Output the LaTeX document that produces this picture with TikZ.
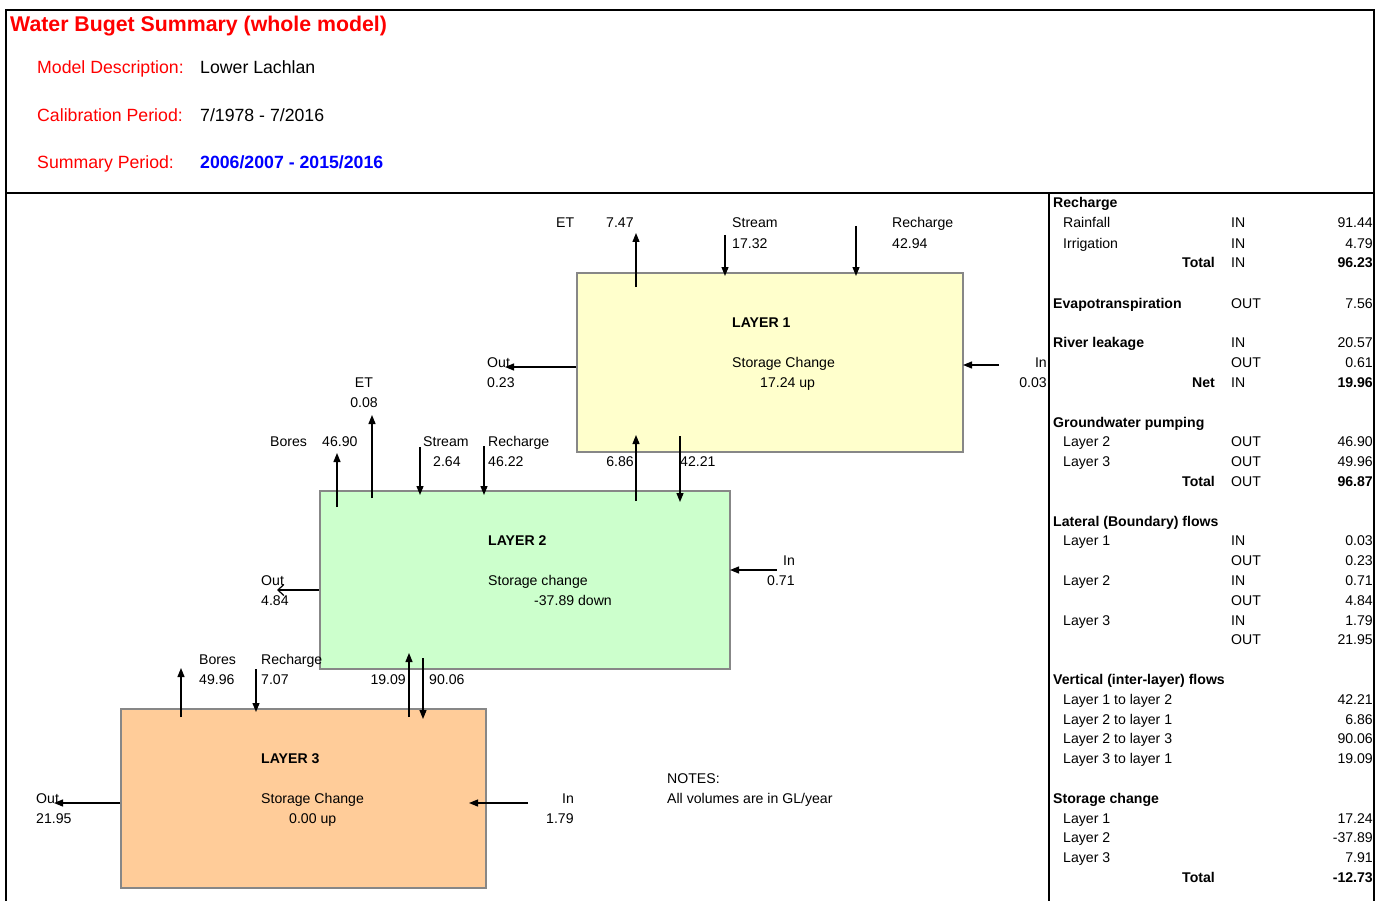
\documentclass[tikz,border=0pt]{standalone}
\usepackage{fontspec}
\setmainfont{Liberation Sans}
\usetikzlibrary{arrows.meta}
\definecolor{hdrred}{RGB}{255,0,0}
\definecolor{hdrblue}{RGB}{0,0,255}
\definecolor{lonefill}{RGB}{255,255,204}
\definecolor{ltwofill}{RGB}{204,255,204}
\definecolor{lthreefill}{RGB}{255,204,153}
\definecolor{boxedge}{RGB}{135,135,135}
\tikzset{
  lbl/.style={font=\fontsize{14.1}{16}\selectfont, inner sep=0pt, anchor=base west},
  lblr/.style={lbl, anchor=base east},
  lblc/.style={lbl, anchor=base},
  blbl/.style={lbl, font=\fontsize{14.1}{16}\selectfont\bfseries},
  blblr/.style={lblr, font=\fontsize{14.1}{16}\selectfont\bfseries},
  hdr/.style={font=\fontsize{17.7}{20}\selectfont, inner sep=0pt, anchor=base west},
  layerbox/.style={draw=boxedge, line width=2pt, inner sep=0pt, anchor=north west},
  flow/.style={line width=1.2pt, -{Triangle[length=9pt,width=7pt]}},
  openflow/.style={line width=1.2pt, -{Straight Barb[length=6pt,width=11pt]}},
  frameline/.style={line width=2.8pt},
}
\begin{document}
\begin{tikzpicture}[x=1pt,y=-1pt]
\useasboundingbox[fill=white] (0,0) rectangle (1383,901);

% frame
\draw[frameline] (6,901) -- (6,10) -- (1374,10) -- (1374,901);
\draw[frameline] (6,193) -- (1374,193);
\draw[frameline] (1049,193) -- (1049,901);

% header
\node[hdr, font=\fontsize{21.3}{24}\selectfont\bfseries, text=hdrred] (title) at (10,32) {Water Buget Summary (whole model)};
\node[hdr, text=hdrred] (mdk) at (37,74) {Model Description:};
\node[hdr] (mdv) at (200,74) {Lower Lachlan};
\node[hdr, text=hdrred] (cpk) at (37,122) {Calibration Period:};
\node[hdr] (cpv) at (200,122) {7/1978 - 7/2016};
\node[hdr, text=hdrred] (spk) at (37,169) {Summary Period:};
\node[hdr, font=\fontsize{17.7}{20}\selectfont\bfseries, text=hdrblue] (spv) at (200,169) {2006/2007 - 2015/2016};

% layer boxes
\node[layerbox, fill=lonefill, minimum width=386pt, minimum height=179pt] (L1) at (576,272) {};
\node[layerbox, fill=ltwofill, minimum width=410pt, minimum height=178pt] (L2) at (319,490) {};
\node[layerbox, fill=lthreefill, minimum width=365pt, minimum height=179pt] (L3) at (120,708) {};

% ---------- Layer 1 ----------
\node[blbl] (l1t) at (732,327) {LAYER 1};
\node[lbl] (l1s) at (732,367) {Storage Change};
\node[lbl] (l1v) at (760,387) {17.24 up};
\node[lbl] (l1et) at (556,228) {ET};
\node[lbl] (l1etv) at (606,228) {7.47};
\node[lbl] (l1st) at (732,228) {Stream};
\node[lbl] (l1stv) at (732,248) {17.32};
\node[lbl] (l1rc) at (892,228) {Recharge};
\node[lbl] (l1rcv) at (892,248) {42.94};
\node[lbl] (l1out) at (487,367) {Out};
\node[lbl] (l1outv) at (487,387) {0.23};
\node[lblr] (l1in) at (1047,367) {In};
\node[lblr] (l1inv) at (1047,387) {0.03};
\node[lblr] (v21) at (634,466) {6.86};
\node[lbl] (v12) at (680,466) {42.21};

\coordinate (a1) at (636,287); \coordinate (a1e) at (636,233);
\coordinate (a2) at (725,235); \coordinate (a2e) at (725,276);
\coordinate (a3) at (856,226); \coordinate (a3e) at (856,276);
\coordinate (a4) at (576,367); \coordinate (a4e) at (505,367);
\coordinate (a5) at (999,365); \coordinate (a5e) at (963,365);
\coordinate (a6) at (636,501); \coordinate (a6e) at (636,435);
\coordinate (a7) at (680,436); \coordinate (a7e) at (680,502);
\draw[flow] (a1) -- (a1e);
\draw[flow] (a2) -- (a2e);
\draw[flow] (a3) -- (a3e);
\draw[flow] (a4) -- (a4e);
\draw[flow] (a5) -- (a5e);
\draw[flow] (a6) -- (a6e);
\draw[flow] (a7) -- (a7e);

% ---------- Layer 2 ----------
\node[blbl] (l2t) at (488,545) {LAYER 2};
\node[lbl] (l2s) at (488,585) {Storage change};
\node[lbl] (l2v) at (534,605) {-37.89 down};
\node[lbl] (l2b) at (270,446) {Bores};
\node[lbl] (l2bv) at (322,446) {46.90};
\node[lblc] (l2et) at (364,387) {ET};
\node[lblc] (l2etv) at (364,407) {0.08};
\node[lbl] (l2st) at (423,446) {Stream};
\node[lbl] (l2stv) at (433,466) {2.64};
\node[lbl] (l2rc) at (488,446) {Recharge};
\node[lbl] (l2rcv) at (488,466) {46.22};
\node[lbl] (l2out) at (261,585) {Out};
\node[lbl] (l2outv) at (261,605) {4.84};
\node[lbl] (l2in) at (783,565) {In};
\node[lbl] (l2inv) at (767,585) {0.71};
\node[lblr] (v31) at (406,684) {19.09};
\node[lbl] (v23) at (429,684) {90.06};

\coordinate (b1) at (337,507); \coordinate (b1e) at (337,453);
\coordinate (b2) at (372,498); \coordinate (b2e) at (372,415);
\coordinate (b3) at (420,447); \coordinate (b3e) at (420,495);
\coordinate (b4) at (484,446); \coordinate (b4e) at (484,495);
\coordinate (b5) at (319,590); \coordinate (b5e) at (277,590);
\coordinate (b6) at (777,570); \coordinate (b6e) at (730,570);
\coordinate (b7) at (409,717); \coordinate (b7e) at (409,653);
\coordinate (b8) at (423,658); \coordinate (b8e) at (423,719);
\draw[flow] (b1) -- (b1e);
\draw[flow] (b2) -- (b2e);
\draw[flow] (b3) -- (b3e);
\draw[flow] (b4) -- (b4e);
\draw[openflow] (b5) -- (b5e);
\draw[flow] (b6) -- (b6e);
\draw[flow] (b7) -- (b7e);
\draw[flow] (b8) -- (b8e);

% ---------- Layer 3 ----------
\node[blbl] (l3t) at (261,763) {LAYER 3};
\node[lbl] (l3s) at (261,803) {Storage Change};
\node[lbl] (l3v) at (289,823) {0.00 up};
\node[lbl] (l3b) at (199,664) {Bores};
\node[lbl] (l3bv) at (199,684) {49.96};
\node[lbl] (l3rc) at (261,664) {Recharge};
\node[lbl] (l3rcv) at (261,684) {7.07};
\node[lbl] (l3out) at (36,803) {Out};
\node[lbl] (l3outv) at (36,823) {21.95};
\node[lbl] (l3in) at (562,803) {In};
\node[lbl] (l3inv) at (546,823) {1.79};

\coordinate (c1) at (181,717); \coordinate (c1e) at (181,668);
\coordinate (c2) at (256,669); \coordinate (c2e) at (256,712);
\coordinate (c3) at (120,803); \coordinate (c3e) at (54,803);
\coordinate (c4) at (528,803); \coordinate (c4e) at (469,803);
\draw[flow] (c1) -- (c1e);
\draw[flow] (c2) -- (c2e);
\draw[flow] (c3) -- (c3e);
\draw[flow] (c4) -- (c4e);

% notes
\node[lbl] (notes) at (667,783) {NOTES:};
\node[lbl] (notes2) at (667,803) {All volumes are in GL/year};

% ---------- summary table ----------
\def\ka{1053}\def\kb{1063}\def\kc{1231}\def\kd{1373}\def\ke{1215}
\node[blbl] (t1) at (\ka,208) {Recharge};
\node[lbl] (t2) at (\kb,228) {Rainfall};
\node[lbl] (t2a) at (\kc,228) {IN};
\node[lblr] (t2b) at (\kd,228) {91.44};
\node[lbl] (t3) at (\kb,248) {Irrigation};
\node[lbl] (t3a) at (\kc,248) {IN};
\node[lblr] (t3b) at (\kd,248) {4.79};
\node[blblr] (t4) at (\ke,268) {Total};
\node[lbl] (t4a) at (\kc,268) {IN};
\node[blblr] (t4b) at (\kd,268) {96.23};

\node[blbl] (t5) at (\ka,308) {Evapotranspiration};
\node[lbl] (t5a) at (\kc,308) {OUT};
\node[lblr] (t5b) at (\kd,308) {7.56};

\node[blbl] (t6) at (\ka,347) {River leakage};
\node[lbl] (t6a) at (\kc,347) {IN};
\node[lblr] (t6b) at (\kd,347) {20.57};
\node[lbl] (t7a) at (\kc,367) {OUT};
\node[lblr] (t7b) at (\kd,367) {0.61};
\node[blblr] (t8) at (\ke,387) {Net};
\node[lbl] (t8a) at (\kc,387) {IN};
\node[blblr] (t8b) at (\kd,387) {19.96};

\node[blbl] (t9) at (\ka,427) {Groundwater pumping};
\node[lbl] (t10) at (\kb,446) {Layer 2};
\node[lbl] (t10a) at (\kc,446) {OUT};
\node[lblr] (t10b) at (\kd,446) {46.90};
\node[lbl] (t11) at (\kb,466) {Layer 3};
\node[lbl] (t11a) at (\kc,466) {OUT};
\node[lblr] (t11b) at (\kd,466) {49.96};
\node[blblr] (t12) at (\ke,486) {Total};
\node[lbl] (t12a) at (\kc,486) {OUT};
\node[blblr] (t12b) at (\kd,486) {96.87};

\node[blbl] (t13) at (\ka,526) {Lateral (Boundary) flows};
\node[lbl] (t14) at (\kb,545) {Layer 1};
\node[lbl] (t14a) at (\kc,545) {IN};
\node[lblr] (t14b) at (\kd,545) {0.03};
\node[lbl] (t15a) at (\kc,565) {OUT};
\node[lblr] (t15b) at (\kd,565) {0.23};
\node[lbl] (t16) at (\kb,585) {Layer 2};
\node[lbl] (t16a) at (\kc,585) {IN};
\node[lblr] (t16b) at (\kd,585) {0.71};
\node[lbl] (t17a) at (\kc,605) {OUT};
\node[lblr] (t17b) at (\kd,605) {4.84};
\node[lbl] (t18) at (\kb,625) {Layer 3};
\node[lbl] (t18a) at (\kc,625) {IN};
\node[lblr] (t18b) at (\kd,625) {1.79};
\node[lbl] (t19a) at (\kc,644) {OUT};
\node[lblr] (t19b) at (\kd,644) {21.95};

\node[blbl] (t20) at (\ka,684) {Vertical (inter-layer) flows};
\node[lbl] (t21) at (\kb,704) {Layer 1 to layer 2};
\node[lblr] (t21b) at (\kd,704) {42.21};
\node[lbl] (t22) at (\kb,724) {Layer 2 to layer 1};
\node[lblr] (t22b) at (\kd,724) {6.86};
\node[lbl] (t23) at (\kb,743) {Layer 2 to layer 3};
\node[lblr] (t23b) at (\kd,743) {90.06};
\node[lbl] (t24) at (\kb,763) {Layer 3 to layer 1};
\node[lblr] (t24b) at (\kd,763) {19.09};

\node[blbl] (t25) at (\ka,803) {Storage change};
\node[lbl] (t26) at (\kb,823) {Layer 1};
\node[lblr] (t26b) at (\kd,823) {17.24};
\node[lbl] (t27) at (\kb,842) {Layer 2};
\node[lblr] (t27b) at (\kd,842) {-37.89};
\node[lbl] (t28) at (\kb,862) {Layer 3};
\node[lblr] (t28b) at (\kd,862) {7.91};
\node[blblr] (t29) at (\ke,882) {Total};
\node[blblr] (t29b) at (\kd,882) {-12.73};
\end{tikzpicture}
\end{document}
